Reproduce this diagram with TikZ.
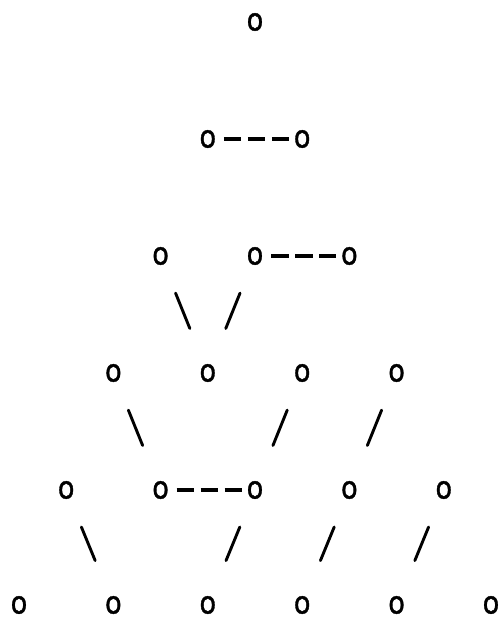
\documentclass[tikz,border=0pt]{standalone}
\usepackage{graphicx}
\usepackage{fontspec}
\setmainfont{DejaVu Sans}
\newfontfamily\vfont[FakeBold=1.2]{DejaVu Sans}
\newcommand{\vo}{\scalebox{0.88}[1]{o}}
\begin{document}
\begin{tikzpicture}[x=1pt,y=-1pt,
  vtx/.style={inner sep=0pt,outer sep=0pt,font=\fontsize{31}{31}\vfont},
  hlink/.style={line width=3.6pt,line cap=butt,dash pattern=on 17.5pt off 6.5pt,shorten <=16pt,shorten >=13pt},
  slink/.style={line width=2.9pt,line cap=round,shorten <=40pt,shorten >=48pt}]
\useasboundingbox (0,0) rectangle (501,619);
% columns: 19 + 47.2k ; rows: 22 + 116.8k
\node[vtx] (a1) at (255,22) {\vo};
\node[vtx] (b1) at (207.8,139) {\vo};
\node[vtx] (b2) at (302.2,139) {\vo};
\node[vtx] (c1) at (160.6,256) {\vo};
\node[vtx] (c2) at (255,256) {\vo};
\node[vtx] (c3) at (349.4,256) {\vo};
\node[vtx] (d1) at (113.4,373) {\vo};
\node[vtx] (d2) at (207.8,373) {\vo};
\node[vtx] (d3) at (302.2,373) {\vo};
\node[vtx] (d4) at (396.6,373) {\vo};
\node[vtx] (e1) at (66.2,490) {\vo};
\node[vtx] (e2) at (160.6,490) {\vo};
\node[vtx] (e3) at (255,490) {\vo};
\node[vtx] (e4) at (349.4,490) {\vo};
\node[vtx] (e5) at (443.8,490) {\vo};
\node[vtx] (f1) at (19,605) {\vo};
\node[vtx] (f2) at (113.4,605) {\vo};
\node[vtx] (f3) at (207.8,605) {\vo};
\node[vtx] (f4) at (302.2,605) {\vo};
\node[vtx] (f5) at (396.6,605) {\vo};
\node[vtx] (f6) at (491,605) {\vo};
% dashed horizontal links
\draw[hlink] (b1.center) -- (b2.center);
\draw[hlink] (c2.center) -- (c3.center);
\draw[hlink] (e2.center) -- (e3.center);
% diagonal links (upper node to lower node)
\draw[slink] (c1.center) -- (d2.center);
\draw[slink] (c2.center) -- (d2.center);
\draw[slink] (d1.center) -- (e2.center);
\draw[slink] (d3.center) -- (e3.center);
\draw[slink] (d4.center) -- (e4.center);
\draw[slink] (e1.center) -- (f2.center);
\draw[slink] (e3.center) -- (f3.center);
\draw[slink] (e4.center) -- (f4.center);
\draw[slink] (e5.center) -- (f5.center);
\end{tikzpicture}
\end{document}
